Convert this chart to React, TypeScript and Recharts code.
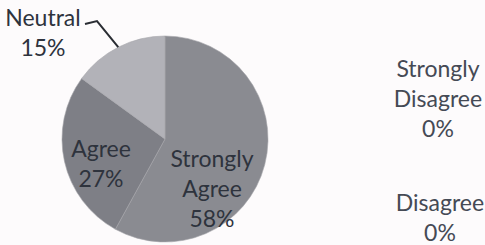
import React from 'react';
import { PieChart, Pie, Cell } from 'recharts';

// survey answers, clockwise from 12 o'clock
const categories = ['Strongly Agree', 'Agree', 'Neutral', 'Strongly Disagree', 'Disagree'];
const shares = [58, 27, 15, 0, 0];
const labelLines = [
  ['Strongly', 'Agree', '58%'],
  ['Agree', '27%'],
  ['Neutral', '15%'],
  ['Strongly', 'Disagree', '0%'],
  ['Disagree', '0%'],
];

const COLORS = ['#8a8b91', '#7e7f86', '#b2b2b8', '#9a9a9a', '#6a6a6a'];
const FONT = 'Lato, "Open Sans", sans-serif';
const FONT_SIZE = 23;
const LINE_H = 30;

const data = categories.map((name, i) => ({ name, value: shares[i], lines: labelLines[i] }));

// block centre offsets from pie centre (inside / outside labels like Excel placed them)
const LABEL_OFFSET: Record<number, [number, number]> = {
  0: [47, 49],
  1: [-64, 24],
  2: [-122, -107],
  3: [273, -41],
  4: [275, 78],
};

const RADIAN = Math.PI / 180;

const renderLabel = (props: any) => {
  const { cx, cy, midAngle, outerRadius, index } = props;
  const entry = data[index];
  if (!entry) return null;
  const [dx, dy] = LABEL_OFFSET[index];
  const bx = cx + dx;
  const by = cy + dy;
  const lines = entry.lines;
  const top = by - ((lines.length - 1) * LINE_H) / 2;
  const fill = index >= 3 ? '#454a55' : '#2e333d';

  let leader = null;
  if (index === 2) {
    const ex = cx + outerRadius * Math.cos(-midAngle * RADIAN);
    const ey = cy + outerRadius * Math.sin(-midAngle * RADIAN);
    leader = (
      <polyline
        points={`${bx + 42},${top + 7} ${bx + 54},${top + 4} ${ex},${ey}`}
        fill="none"
        stroke="#2a2d33"
        strokeWidth={2}
      />
    );
  }

  return (
    <g key={`label-${index}`}>
      {leader}
      <text
        x={bx}
        y={top}
        textAnchor="middle"
        dominantBaseline="central"
        fill={fill}
        fontFamily={FONT}
        fontSize={FONT_SIZE}
      >
        {lines.map((l: string, i: number) => (
          <tspan key={i} x={bx} dy={i === 0 ? 0 : LINE_H}>
            {l}
          </tspan>
        ))}
      </text>
    </g>
  );
};

const App: React.FC = () => {
  return (
    <div style={{ position: 'fixed', top: 0, left: 0, width: 485, height: 245, background: '#fdfbfc' }}>
      <PieChart width={485} height={245} margin={{ top: 0, right: 0, bottom: 0, left: 0 }}>
        <Pie
          data={data}
          dataKey="value"
          nameKey="name"
          cx={165}
          cy={139}
          outerRadius={103}
          startAngle={90}
          endAngle={-270}
          stroke="#a4a5aa"
          strokeWidth={0.6}
          label={renderLabel}
          labelLine={false}
          isAnimationActive={false}
        >
          {data.map((entry, index) => (
            <Cell key={`cell-${index}`} fill={COLORS[index % COLORS.length]} />
          ))}
        </Pie>
      </PieChart>
    </div>
  );
};

export default App;
